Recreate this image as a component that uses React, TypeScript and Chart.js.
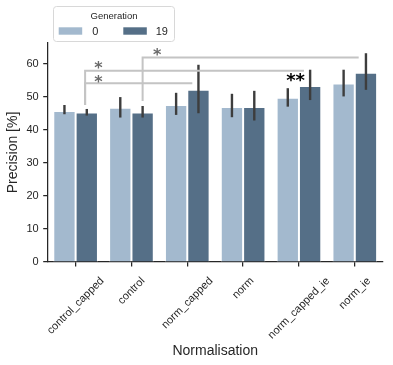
import React, { useEffect, useRef } from 'react';
import { Chart, registerables } from 'chart.js';

Chart.register(...registerables);

// ---- data ----
const categories = ['control_capped', 'control', 'norm_capped', 'norm', 'norm_capped_ie', 'norm_ie'];
const seriesLabels = ['0', '19'];
const legendTitle = 'Generation';
const xTitle = 'Normalisation';
const yTitle = 'Precision [%]';

const gen0Mean = [45.8, 46.8, 47.6, 47.0, 49.8, 54.1];
const gen0Low = [44.8, 43.8, 44.6, 43.9, 47.1, 50.2];
const gen0High = [47.6, 50.0, 51.3, 51.0, 52.7, 58.3];

const gen19Mean = [45.3, 45.3, 52.2, 47.0, 53.4, 57.4];
const gen19Low = [44.4, 43.8, 45.1, 42.9, 49.1, 52.2];
const gen19High = [46.4, 47.3, 59.8, 51.9, 58.3, 63.3];

const yMin = 0;
const yMax = 66.4;
const yStep = 10;

// significance brackets (x in category-index units, y in data units)
const bracketStart = [0.17, 0.17, 1.2];
const bracketEnd = [4.09, 2.09, 5.07];
const bracketY = [58.0, 54.2, 62.0];
const bracketDrop = [47.6, 47.6, 48.8];
const bracketLabel = ['*', '*', '*'];
const bracketLabelX = [0.41, 0.41, 1.46];
const bracketLabelY = [59.6, 55.5, 63.8];

// extra annotation
const noteText = ['**'];
const noteX = [3.94];
const noteY = [55.9];

const FONT = "'Liberation Sans', Arial, Helvetica, sans-serif";
const TEXT = '#262626';
const LIGHT = '#a3b9ce';
const DARK = '#556f87';

export default function App() {
  const ref = useRef<HTMLCanvasElement>(null);

  useEffect(() => {
    const lows = [gen0Low, gen19Low];
    const highs = [gen0High, gen19High];

    const annot = {
      id: 'annot',
      afterDatasetsDraw(chart: any) {
        const ctx: CanvasRenderingContext2D = chart.ctx;
        const xs = chart.scales.x;
        const ys = chart.scales.y;
        ctx.save();
        // error bars
        ctx.strokeStyle = '#3d3d3d';
        ctx.lineWidth = 2.4;
        ctx.lineCap = 'butt';
        chart.data.datasets.forEach((_: any, i: number) => {
          const meta = chart.getDatasetMeta(i);
          meta.data.forEach((bar: any, j: number) => {
            ctx.beginPath();
            ctx.moveTo(bar.x, ys.getPixelForValue(lows[i][j]));
            ctx.lineTo(bar.x, ys.getPixelForValue(highs[i][j]));
            ctx.stroke();
          });
        });
        // brackets
        ctx.strokeStyle = '#c4c4c4';
        ctx.lineWidth = 2;
        bracketY.forEach((v, k) => {
          const x0 = xs.getPixelForValue(bracketStart[k]);
          const x1 = xs.getPixelForValue(bracketEnd[k]);
          const yy = ys.getPixelForValue(v);
          const yd = ys.getPixelForValue(bracketDrop[k]);
          ctx.beginPath();
          ctx.moveTo(x0, yd);
          ctx.lineTo(x0, yy);
          ctx.lineTo(x1, yy);
          ctx.stroke();
        });
        const drawCentered = (t: string, cx: number, cy: number) => {
          const m = ctx.measureText(t);
          const asc = m.actualBoundingBoxAscent;
          const desc = m.actualBoundingBoxDescent;
          ctx.textAlign = 'center';
          ctx.textBaseline = 'alphabetic';
          ctx.fillText(t, cx, cy + (asc - desc) / 2);
        };
        ctx.fillStyle = '#6a6a6a';
        ctx.font = "bold 16px 'DejaVu Sans', sans-serif";
        bracketLabel.forEach((t, k) => {
          drawCentered(t, xs.getPixelForValue(bracketLabelX[k]), ys.getPixelForValue(bracketLabelY[k]));
        });
        ctx.fillStyle = '#000000';
        ctx.font = "bold 18px 'DejaVu Sans', sans-serif";
        noteText.forEach((t, k) => {
          drawCentered(t, xs.getPixelForValue(noteX[k]), ys.getPixelForValue(noteY[k]));
        });
        ctx.restore();
      },
      afterDraw(chart: any) {
        const ctx: CanvasRenderingContext2D = chart.ctx;
        const xs = chart.scales.x;
        const area = chart.chartArea;
        ctx.save();
        // rotated x tick labels, bbox centered on tick
        ctx.font = `11px ${FONT}`;
        ctx.fillStyle = TEXT;
        const h = 12;
        const c = Math.SQRT1_2;
        const top = area.bottom + 13;
        categories.forEach((lab, i) => {
          const w = ctx.measureText(lab).width;
          const cx = xs.getPixelForValue(i);
          const cy = top + ((w + h) * c) / 2;
          ctx.save();
          ctx.translate(cx, cy);
          ctx.rotate(-Math.PI / 4);
          ctx.textAlign = 'center';
          ctx.textBaseline = 'middle';
          ctx.fillText(lab, 0, 0);
          ctx.restore();
        });
        // legend
        const bx = 53.5, by = 6.5, bw = 121, bh = 35, r = 3;
        ctx.beginPath();
        ctx.moveTo(bx + r, by);
        ctx.lineTo(bx + bw - r, by);
        ctx.arcTo(bx + bw, by, bx + bw, by + r, r);
        ctx.lineTo(bx + bw, by + bh - r);
        ctx.arcTo(bx + bw, by + bh, bx + bw - r, by + bh, r);
        ctx.lineTo(bx + r, by + bh);
        ctx.arcTo(bx, by + bh, bx, by + bh - r, r);
        ctx.lineTo(bx, by + r);
        ctx.arcTo(bx, by, bx + r, by, r);
        ctx.closePath();
        ctx.fillStyle = 'rgba(255,255,255,0.8)';
        ctx.fill();
        ctx.strokeStyle = '#d8d8d8';
        ctx.lineWidth = 1;
        ctx.stroke();
        ctx.fillStyle = TEXT;
        ctx.font = `9.5px ${FONT}`;
        ctx.textAlign = 'center';
        ctx.textBaseline = 'middle';
        ctx.fillText(legendTitle, bx + bw / 2, 16);
        const swX = [58.7, 123.3];
        const txX = [92.3, 155.7];
        ctx.font = `11px ${FONT}`;
        ctx.textAlign = 'left';
        chart.data.datasets.forEach((ds: any, i: number) => {
          ctx.fillStyle = ds.backgroundColor;
          ctx.fillRect(swX[i], 27.3, 23.5, 7.4);
          ctx.fillStyle = TEXT;
          ctx.fillText(ds.label, txX[i], 31.5);
        });
        ctx.restore();
      },
    };

    const chart = new Chart(ref.current as HTMLCanvasElement, {
      type: 'bar',
      data: {
        labels: categories,
        datasets: [
          { label: seriesLabels[0], data: gen0Mean, backgroundColor: LIGHT, borderColor: '#ffffff', borderWidth: 1 },
          { label: seriesLabels[1], data: gen19Mean, backgroundColor: DARK, borderColor: '#ffffff', borderWidth: 1 },
        ],
      },
      options: {
        animation: false,
        responsive: false,
        maintainAspectRatio: false,
        layout: { padding: { top: 43, right: 10.3, bottom: 0, left: 0 } },
        datasets: { bar: { categoryPercentage: 0.8, barPercentage: 1.0 } },
        plugins: { legend: { display: false }, tooltip: { enabled: false } },
        scales: {
          x: {
            offset: true,
            grid: { display: true, drawOnChartArea: false, drawTicks: true, tickLength: 4.5, offset: false, color: TEXT, lineWidth: 1.25 },
            border: { display: true, color: TEXT, width: 1.25 },
            ticks: { display: false },
            title: { display: true, text: xTitle, color: TEXT, font: { family: FONT, size: 14 }, padding: { top: 4, bottom: 5.6 } },
            afterFit: (s: any) => { s.height = 103; },
          },
          y: {
            min: yMin,
            max: yMax,
            grid: { display: true, drawOnChartArea: false, drawTicks: true, tickLength: 4.5, color: TEXT, lineWidth: 1.25 },
            border: { display: true, color: TEXT, width: 1.25 },
            ticks: { stepSize: yStep, includeBounds: false, color: TEXT, font: { family: FONT, size: 11 }, padding: 4.5 },
            title: { display: true, text: yTitle, color: TEXT, font: { family: FONT, size: 14 }, padding: { top: 4.6, bottom: 0 } },
            afterFit: (s: any) => { s.width = 47.7; },
          },
        },
      },
      plugins: [annot],
    });
    return () => chart.destroy();
  }, []);

  return (
    <div style={{ position: 'absolute', left: 0, top: 0, width: 393, height: 365 }}>
      <canvas ref={ref} width={393} height={365} style={{ width: 393, height: 365, display: 'block' }} />
    </div>
  );
}
